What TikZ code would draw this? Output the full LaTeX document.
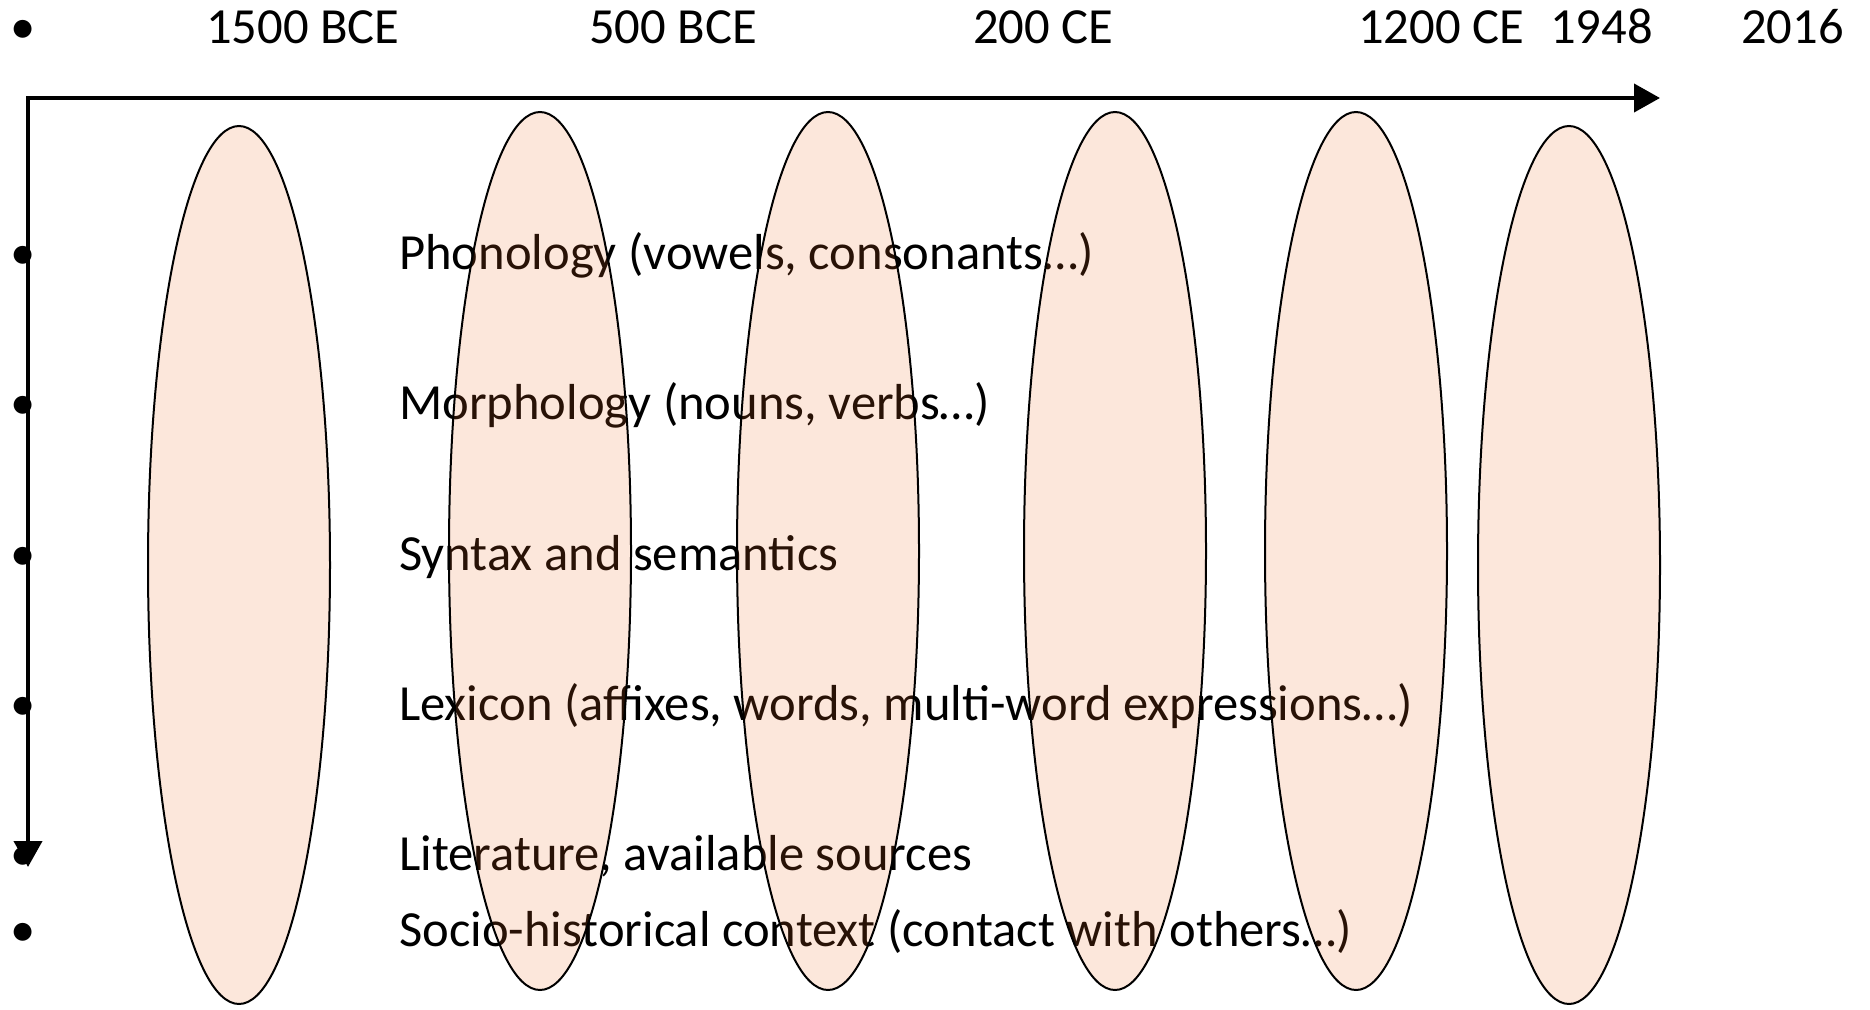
\documentclass[tikz,border=0pt]{standalone}
\usepackage{fontspec}
\setmainfont{Carlito}
\usetikzlibrary{arrows.meta,shapes.geometric}
\definecolor{peach}{RGB}{240,110,40}
\tikzset{
  lbl/.style={anchor=base west,inner sep=0pt,font=\fontsize{50.6pt}{60pt}\selectfont},
  bul/.style={anchor=base,inner sep=0pt,font=\fontsize{50.6pt}{60pt}\selectfont},
  era/.style={ellipse,draw=black,line width=2pt,fill=peach,fill opacity=0.17,draw opacity=1,inner sep=0pt,outer sep=0pt,minimum width=182pt,minimum height=878pt},
  axis/.style={line width=4pt,-{Triangle[length=26pt,width=28pt]}}
}
\begin{document}
\begin{tikzpicture}[x=1pt,y=-1pt]
\useasboundingbox (0,0) rectangle (1870,1009);
% top line
\node[bul] (b0) at (23,43) {•};
\node[lbl] (t1) at (206,43) {1500 BCE};
\node[lbl] (t2) at (589,43) {500 BCE};
\node[lbl] (t3) at (973,43) {200 CE};
\node[lbl] (t4) at (1358,43) {1200 CE};
\node[lbl] (t5) at (1550,43) {1948};
\node[lbl] (t6) at (1741,43) {2016};
% bullets and text lines
\node[bul] (b1) at (23,269) {•};
\node[bul] (b2) at (23,419) {•};
\node[bul] (b3) at (23,570) {•};
\node[bul] (b4) at (23,720) {•};
\node[bul] (b5) at (23,870) {•};
\node[bul] (b6) at (23,946) {•};
\node[lbl] (l1) at (399,269) {Phonology (vowels, consonants…)};
\node[lbl] (l2) at (399,419) {Morphology (nouns, verbs…)};
\node[lbl] (l3) at (399,570) {Syntax and semantics};
\node[lbl] (l4) at (399,720) {Lexicon (affixes, words, multi-word expressions…)};
\node[lbl] (l5) at (399,870) {Literature, available sources};
\node[lbl] (l6) at (399,946) {Socio-historical context (contact with others…)};
% ellipses (over the text, translucent)
\node[era] (e1) at (239,565) {};
\node[era] (e2) at (540,551) {};
\node[era] (e3) at (828,551) {};
\node[era] (e4) at (1115,551) {};
\node[era] (e5) at (1356,551) {};
\node[era] (e6) at (1569,565) {};
% axes
\coordinate (oh) at (26,98);
\coordinate (ov) at (28,96);
\coordinate (xend) at (1660,98);
\coordinate (yend) at (28,867);
\draw[axis] (oh) -- (xend);
\draw[axis] (ov) -- (yend);
\end{tikzpicture}
\end{document}
